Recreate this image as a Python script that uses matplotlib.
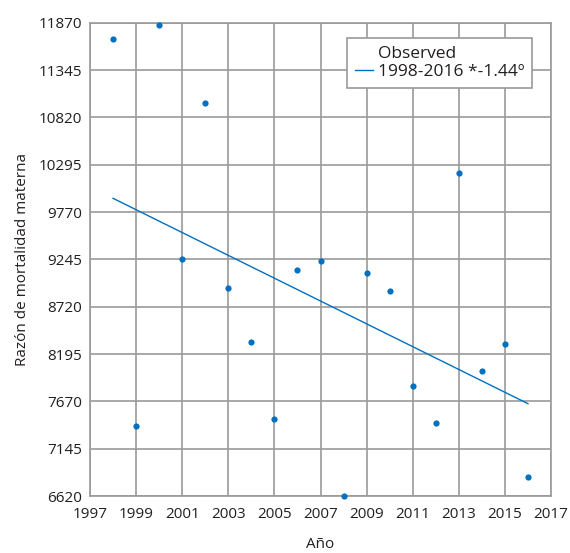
import matplotlib
matplotlib.use("Agg")
import matplotlib.pyplot as plt
from matplotlib.lines import Line2D

years = [1998, 1999, 2000, 2001, 2002, 2003, 2004, 2005, 2006, 2007,
         2008, 2009, 2010, 2011, 2012, 2013, 2014, 2015, 2016]
values = [11686, 7400, 11844, 9252, 10976, 8927, 8328, 7477, 9127, 9223,
          6620, 9090, 8897, 7844, 7430, 10206, 8010, 8310, 6827]
trend_years = [1998, 2016]
trend_values = [9922, 7644]
yticks = [6620, 7145, 7670, 8195, 8720, 9245, 9770, 10295, 10820, 11345, 11870]
xticks = list(range(1997, 2018, 2))

plt.rcParams['font.family'] = ['Open Sans', 'DejaVu Sans']
blue = '#0070C0'
grid_c = '#9a9a9a'
text_c = '#231f20'

fig = plt.figure(figsize=(5.7, 5.53), dpi=100)
ax = fig.add_axes([90/570, 1-496/553, (551-90)/570, (496-22.7)/553])

ax.scatter(years, values, s=20, color=blue, zorder=3, clip_on=False, linewidths=0)
ax.plot(trend_years, trend_values, color=blue, lw=1.0, zorder=3)

ax.set_xlim(1997, 2017)
ax.set_ylim(6620, 11870)
ax.set_xticks(xticks)
ax.set_yticks(yticks)
ax.grid(True, color=grid_c, lw=1.2)
ax.set_axisbelow(True)
for s in ax.spines.values():
    s.set_color(grid_c)
    s.set_linewidth(1.2)
ax.tick_params(length=0, labelsize=11, colors=text_c)
ax.tick_params(axis='x', pad=8)
ax.tick_params(axis='y', pad=6)

ax.set_xlabel('Año', fontsize=11, color=text_c, labelpad=11)
ax.set_ylabel('Razón de mortalidad materna', fontsize=11, color=text_c, labelpad=6)

h_obs = Line2D([], [], color='none', lw=0)
h_tr = Line2D([], [], color=blue, lw=1.0)
leg = ax.legend([h_obs, h_tr], ['Observed', '1998-2016 *-1.44º'],
                loc='upper right', bbox_to_anchor=(0.9588, 0.967),
                fontsize=12.5, fancybox=False, framealpha=1,
                edgecolor=grid_c, handlelength=1.0, handletextpad=0.3,
                borderpad=0.45, labelspacing=0.1, borderaxespad=0)
leg.get_frame().set_linewidth(1.2)
for t in leg.get_texts():
    t.set_color(text_c)

fig.savefig('out.png', dpi=100)
